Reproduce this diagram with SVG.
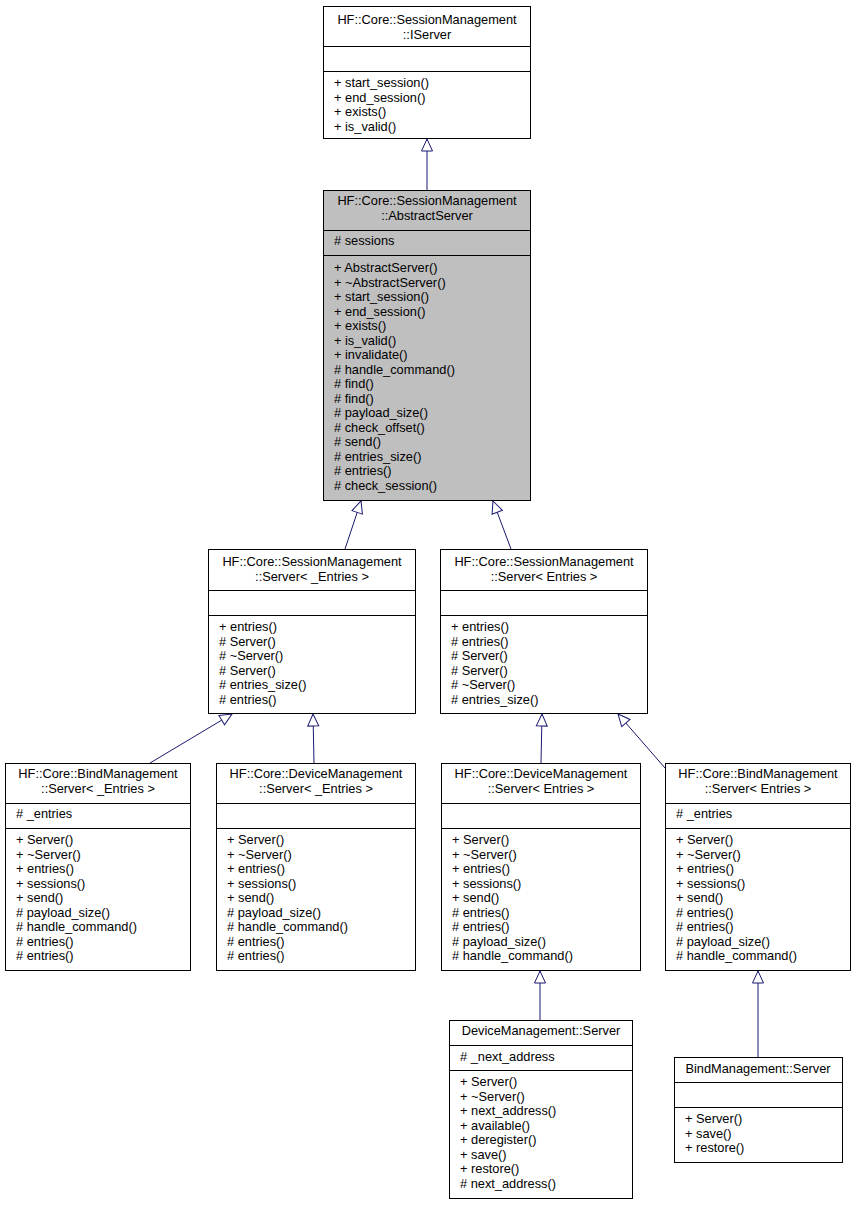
<svg xmlns="http://www.w3.org/2000/svg" width="856" height="1205" viewBox="0 0 856 1205">
<style>
text{font-family:"Liberation Sans",Arial,sans-serif;font-size:12.8px;fill:#000}
.t{text-anchor:middle}
rect{fill:#fff;stroke:#000;stroke-width:1}
rect.g{fill:#bfbfbf}
line.d{stroke:#000;stroke-width:1}
.e{fill:none;stroke:#191970;stroke-width:1;marker-end:url(#tri)}
</style>
<defs>
<marker id="tri" markerUnits="userSpaceOnUse" markerWidth="14" markerHeight="14" viewBox="0 0 14 14" refX="13" refY="7" orient="auto">
<path d="M1,1.5 L13,7 L1,12.5 Z" fill="#fff" stroke="#191970" stroke-width="1"/>
</marker>
</defs>
<rect x="0" y="0" width="856" height="1205" style="stroke:none"/>
<g id="connectors">
<path class="e" d="M427,190 L427,139"/>
<path class="e" d="M345,549 L361,501"/>
<path class="e" d="M511,549 L493,501"/>
<path class="e" d="M150,763 L232,714"/>
<path class="e" d="M314,763 L313,714"/>
<path class="e" d="M541,763 L542,714"/>
<path class="e" d="M665,768 L618,714"/>
<path class="e" d="M540,1020 L540,971"/>
<path class="e" d="M758,1057 L758,971"/>
</g>
<g id="IServer">
<rect x="323.5" y="6.5" width="207" height="132"/>
<text class="t" x="427" y="24">HF::Core::SessionManagement</text>
<text class="t" x="427" y="39">::IServer</text>
<line class="d" x1="323.5" y1="46.5" x2="530.5" y2="46.5"/>
<line class="d" x1="323.5" y1="71.5" x2="530.5" y2="71.5"/>
<text x="334" y="87">+ start_session()</text>
<text x="334" y="102">+ end_session()</text>
<text x="334" y="116">+ exists()</text>
<text x="334" y="131">+ is_valid()</text>
</g>
<g id="AbstractServer">
<rect class="g" x="323.5" y="190.5" width="207" height="310"/>
<text class="t" x="427" y="205">HF::Core::SessionManagement</text>
<text class="t" x="427" y="220">::AbstractServer</text>
<line class="d" x1="323.5" y1="230.5" x2="530.5" y2="230.5"/>
<text x="334" y="245"># sessions</text>
<line class="d" x1="323.5" y1="255.5" x2="530.5" y2="255.5"/>
<text x="334" y="272">+ AbstractServer()</text>
<text x="334" y="286.5">+ ~AbstractServer()</text>
<text x="334" y="301">+ start_session()</text>
<text x="334" y="315.5">+ end_session()</text>
<text x="334" y="330">+ exists()</text>
<text x="334" y="344.5">+ is_valid()</text>
<text x="334" y="359">+ invalidate()</text>
<text x="334" y="373.5"># handle_command()</text>
<text x="334" y="388"># find()</text>
<text x="334" y="402.5"># find()</text>
<text x="334" y="417"># payload_size()</text>
<text x="334" y="431.5"># check_offset()</text>
<text x="334" y="446"># send()</text>
<text x="334" y="460.5"># entries_size()</text>
<text x="334" y="475"># entries()</text>
<text x="334" y="489.5"># check_session()</text>
</g>
<g id="Server_Entries_priv">
<rect x="208.5" y="549.5" width="207" height="164"/>
<text class="t" x="312" y="566">HF::Core::SessionManagement</text>
<text class="t" x="312" y="581">::Server&lt; _Entries &gt;</text>
<line class="d" x1="208.5" y1="590.5" x2="415.5" y2="590.5"/>
<line class="d" x1="208.5" y1="615.5" x2="415.5" y2="615.5"/>
<text x="219" y="631">+ entries()</text>
<text x="219" y="645.5"># Server()</text>
<text x="219" y="660"># ~Server()</text>
<text x="219" y="674.5"># Server()</text>
<text x="219" y="689"># entries_size()</text>
<text x="219" y="703.5"># entries()</text>
</g>
<g id="Server_Entries">
<rect x="440.5" y="549.5" width="207" height="164"/>
<text class="t" x="544" y="566">HF::Core::SessionManagement</text>
<text class="t" x="544" y="581">::Server&lt; Entries &gt;</text>
<line class="d" x1="440.5" y1="590.5" x2="647.5" y2="590.5"/>
<line class="d" x1="440.5" y1="615.5" x2="647.5" y2="615.5"/>
<text x="451" y="631">+ entries()</text>
<text x="451" y="645.5"># entries()</text>
<text x="451" y="660"># Server()</text>
<text x="451" y="674.5"># Server()</text>
<text x="451" y="689"># ~Server()</text>
<text x="451" y="703.5"># entries_size()</text>
</g>
<g id="BindServer_Entries_priv">
<rect x="5.5" y="763.5" width="185" height="207"/>
<text class="t" x="98" y="778">HF::Core::BindManagement</text>
<text class="t" x="98" y="793">::Server&lt; _Entries &gt;</text>
<line class="d" x1="5.5" y1="803.5" x2="190.5" y2="803.5"/>
<text x="16" y="818"># _entries</text>
<line class="d" x1="5.5" y1="828.5" x2="190.5" y2="828.5"/>
<text x="16" y="844">+ Server()</text>
<text x="16" y="858.5">+ ~Server()</text>
<text x="16" y="873">+ entries()</text>
<text x="16" y="887.5">+ sessions()</text>
<text x="16" y="902">+ send()</text>
<text x="16" y="916.5"># payload_size()</text>
<text x="16" y="931"># handle_command()</text>
<text x="16" y="945.5"># entries()</text>
<text x="16" y="960"># entries()</text>
</g>
<g id="DeviceServer_Entries_priv">
<rect x="216.5" y="763.5" width="199" height="207"/>
<text class="t" x="316" y="778">HF::Core::DeviceManagement</text>
<text class="t" x="316" y="793">::Server&lt; _Entries &gt;</text>
<line class="d" x1="216.5" y1="803.5" x2="415.5" y2="803.5"/>
<line class="d" x1="216.5" y1="828.5" x2="415.5" y2="828.5"/>
<text x="227" y="844">+ Server()</text>
<text x="227" y="858.5">+ ~Server()</text>
<text x="227" y="873">+ entries()</text>
<text x="227" y="887.5">+ sessions()</text>
<text x="227" y="902">+ send()</text>
<text x="227" y="916.5"># payload_size()</text>
<text x="227" y="931"># handle_command()</text>
<text x="227" y="945.5"># entries()</text>
<text x="227" y="960"># entries()</text>
</g>
<g id="DeviceServer_Entries">
<rect x="441.5" y="763.5" width="199" height="207"/>
<text class="t" x="541" y="778">HF::Core::DeviceManagement</text>
<text class="t" x="541" y="793">::Server&lt; Entries &gt;</text>
<line class="d" x1="441.5" y1="803.5" x2="640.5" y2="803.5"/>
<line class="d" x1="441.5" y1="828.5" x2="640.5" y2="828.5"/>
<text x="452" y="844">+ Server()</text>
<text x="452" y="858.5">+ ~Server()</text>
<text x="452" y="873">+ entries()</text>
<text x="452" y="887.5">+ sessions()</text>
<text x="452" y="902">+ send()</text>
<text x="452" y="916.5"># entries()</text>
<text x="452" y="931"># entries()</text>
<text x="452" y="945.5"># payload_size()</text>
<text x="452" y="960"># handle_command()</text>
</g>
<g id="BindServer_Entries">
<rect x="665.5" y="763.5" width="185" height="207"/>
<text class="t" x="758" y="778">HF::Core::BindManagement</text>
<text class="t" x="758" y="793">::Server&lt; Entries &gt;</text>
<line class="d" x1="665.5" y1="803.5" x2="850.5" y2="803.5"/>
<text x="676" y="818"># _entries</text>
<line class="d" x1="665.5" y1="828.5" x2="850.5" y2="828.5"/>
<text x="676" y="844">+ Server()</text>
<text x="676" y="858.5">+ ~Server()</text>
<text x="676" y="873">+ entries()</text>
<text x="676" y="887.5">+ sessions()</text>
<text x="676" y="902">+ send()</text>
<text x="676" y="916.5"># entries()</text>
<text x="676" y="931"># entries()</text>
<text x="676" y="945.5"># payload_size()</text>
<text x="676" y="960"># handle_command()</text>
</g>
<g id="DeviceManagementServer">
<rect x="449.5" y="1020.5" width="183" height="178"/>
<text class="t" x="541" y="1035">DeviceManagement::Server</text>
<line class="d" x1="449.5" y1="1045.5" x2="632.5" y2="1045.5"/>
<text x="460" y="1061"># _next_address</text>
<line class="d" x1="449.5" y1="1070.5" x2="632.5" y2="1070.5"/>
<text x="460" y="1086">+ Server()</text>
<text x="460" y="1100.5">+ ~Server()</text>
<text x="460" y="1115">+ next_address()</text>
<text x="460" y="1129.5">+ available()</text>
<text x="460" y="1144">+ deregister()</text>
<text x="460" y="1158.5">+ save()</text>
<text x="460" y="1173">+ restore()</text>
<text x="460" y="1187.5"># next_address()</text>
</g>
<g id="BindManagementServer">
<rect x="674.5" y="1057.5" width="168" height="105"/>
<text class="t" x="758" y="1073">BindManagement::Server</text>
<line class="d" x1="674.5" y1="1082.5" x2="842.5" y2="1082.5"/>
<line class="d" x1="674.5" y1="1107.5" x2="842.5" y2="1107.5"/>
<text x="685" y="1123">+ Server()</text>
<text x="685" y="1137.5">+ save()</text>
<text x="685" y="1152">+ restore()</text>
</g>
</svg>
